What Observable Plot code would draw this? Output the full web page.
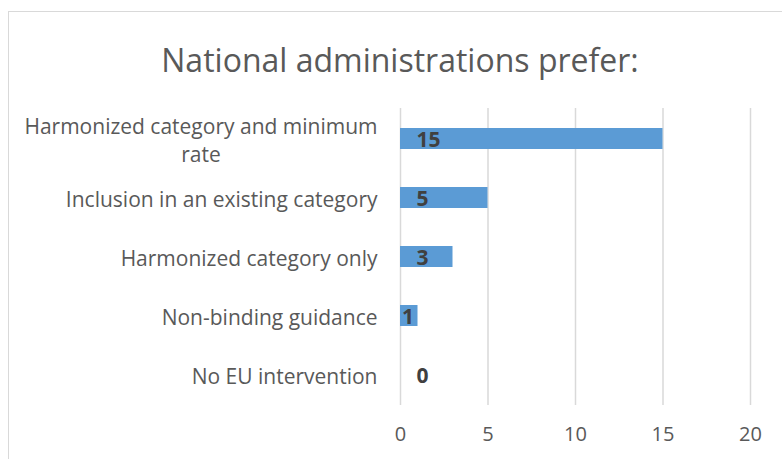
<!DOCTYPE html>
<html>
<head>
<meta charset="utf-8">
<script src="https://cdn.jsdelivr.net/npm/d3@7"></script>
<script src="https://cdn.jsdelivr.net/npm/@observablehq/plot@0.6"></script>
<style>
  html, body { margin: 0; padding: 0; background: #fff; overflow: hidden; }
  body { width: 782px; height: 459px; position: relative; font-family: "Open Sans", sans-serif; }
  #frame { position: absolute; left: 8px; top: 11px; width: 800px; height: 500px; border: 1.5px solid #d9d9d9; box-sizing: border-box; }
  #title { position: absolute; left: 0; top: 0; width: 800px; height: 100px; text-align: center; line-height: 120px; font-size: 32px; color: #595959; }
  #chart { position: absolute; left: 0; top: 100px; }
</style>
</head>
<body>
<div id="frame"></div>
<div id="title">National administrations prefer:</div>
<div id="chart"></div>
<script>
const categories = [
  "Harmonized category and minimum rate",
  "Inclusion in an existing category",
  "Harmonized category only",
  "Non-binding guidance",
  "No EU intervention"
];
const displayLabels = [
  "Harmonized category and minimum\nrate",
  "Inclusion in an existing category",
  "Harmonized category only",
  "Non-binding guidance",
  "No EU intervention"
];
const values = [15, 5, 3, 1, 0];
const xTicks = [0, 5, 10, 15, 20];

const labelFontSize = 21;
const valueFontSize = 21;
const fontFamily = "'Open Sans', sans-serif";

// measure text with the same SVG text engine Plot uses
const ns = "http://www.w3.org/2000/svg";
const msvg = document.createElementNS(ns, "svg");
msvg.setAttribute("style", "position:absolute;left:-9999px;top:0");
document.body.appendChild(msvg);
function measure(str, size, weight) {
  const t = document.createElementNS(ns, "text");
  t.setAttribute("font-family", fontFamily);
  t.setAttribute("font-size", size);
  if (weight) t.setAttribute("font-weight", weight);
  t.textContent = str;
  msvg.appendChild(t);
  const w = t.getComputedTextLength();
  msvg.removeChild(t);
  return w;
}
const blockWidth = s => Math.max(...s.split("\n").map(l => measure(l, labelFontSize)));

const width = 782, marginLeft = 400, marginRight = 32;
const pxPerUnit = (width - marginLeft - marginRight) / 20;

const data = categories.map((c, i) => ({
  category: c,
  value: values[i],
  label: displayLabels[i],
  half: blockWidth(displayLabels[i]) / 2,
  fits: values[i] === 0 || values[i] * pxPerUnit >= 16 + measure(String(values[i]), valueFontSize, "bold")
}));
document.body.removeChild(msvg);

const plot = Plot.plot({
  width,
  height: 359,
  marginLeft,
  marginRight,
  marginTop: 8,
  marginBottom: 54,
  style: {fontFamily, background: "transparent", overflow: "visible"},
  x: {domain: [0, 20], ticks: xTicks},
  y: {domain: categories, paddingInner: 0.64, paddingOuter: 0.32, axis: null},
  marks: [
    Plot.ruleX(xTicks, {stroke: "#d9d9d9", strokeWidth: 1.5}),
    Plot.barX(data, {x: "value", y: "category", fill: "#5b9bd5"}),
    Plot.text(data.filter(d => d.fits), {x: 0, y: "category", text: d => String(d.value), dx: 16, dy: 1, textAnchor: "start", fontWeight: "bold", fontSize: valueFontSize, fill: "#404040"}),
    Plot.text(data.filter(d => !d.fits), {x: "value", y: "category", text: d => String(d.value), dx: -4, dy: 1, textAnchor: "end", fontWeight: "bold", fontSize: valueFontSize, fill: "#404040"}),
    ...data.map(d => Plot.text([d], {
      y: "category", frameAnchor: "left", text: "label", textAnchor: "middle",
      dx: -23 - d.half, fontSize: labelFontSize, fill: "#595959", lineHeight: 1.33
    })),
    Plot.axisX({ticks: xTicks, tickSize: 0, tickPadding: 21, fontSize: 20, color: "#595959", label: null})
  ]
});
document.getElementById("chart").appendChild(plot);
</script>
</body>
</html>
